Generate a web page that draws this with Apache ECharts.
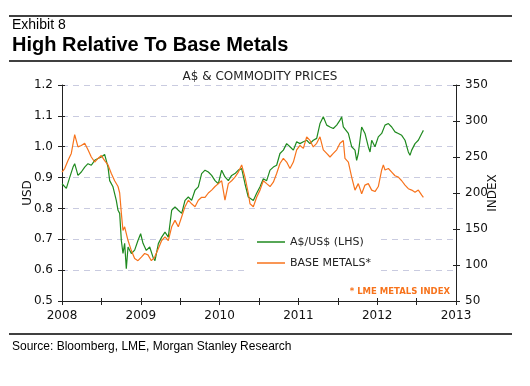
<!DOCTYPE html>
<html><head><meta charset="utf-8">
<script src="https://cdn.jsdelivr.net/npm/echarts@6/dist/echarts.min.js"></script>
<style>html,body{margin:0;padding:0;background:#fff}#c{width:530px;height:386px}</style>
</head><body><div id="c"></div>
<script>
// A$/US$ (left axis, USD)
const gDates = [2008.000,2008.055,2008.097,2008.140,2008.161,2008.203,2008.245,2008.288,2008.330,2008.372,2008.415,2008.457,2008.499,2008.541,2008.584,2008.605,2008.647,2008.689,2008.711,2008.732,2008.753,2008.774,2008.795,2008.816,2008.838,2008.880,2008.922,2008.964,2008.998,2009.028,2009.070,2009.113,2009.155,
2009.180,2009.223,2009.265,2009.307,2009.349,2009.392,2009.434,2009.476,2009.519,2009.561,2009.603,2009.645,2009.688,2009.730,2009.772,2009.815,2009.857,2009.899,2009.942,2009.984,2010.026,2010.068,2010.111,2010.153,2010.195,2010.238,2010.280,2010.322,2010.364,
2010.386,2010.428,2010.470,2010.513,2010.555,2010.597,2010.640,2010.682,2010.724,2010.766,2010.809,2010.851,2010.893,2010.936,2010.978,2011.020,2011.063,2011.105,2011.147,2011.189,2011.232,2011.274,2011.316,2011.359,2011.401,2011.443,2011.486,2011.528,2011.549,2011.570,
2011.591,2011.634,2011.676,2011.718,2011.739,2011.760,2011.803,2011.824,2011.845,2011.887,2011.909,2011.930,2011.972,2012.014,2012.057,2012.099,2012.142,2012.184,2012.226,2012.268,2012.311,2012.353,2012.395,2012.416,2012.438,2012.480,2012.522,2012.565,2012.586];
const gValues = [0.88,0.865,0.90,0.934,0.945,0.907,0.918,0.934,0.945,0.94,0.956,0.962,0.967,0.975,0.934,0.89,0.87,0.826,0.794,0.784,0.696,0.654,0.687,0.605,0.675,0.654,0.665,0.696,0.718,0.687,0.664,0.675,0.642,
0.631,0.686,0.707,0.723,0.707,0.794,0.805,0.794,0.784,0.826,0.837,0.826,0.859,0.87,0.913,0.924,0.918,0.907,0.89,0.88,0.924,0.902,0.89,0.907,0.913,0.924,0.929,0.88,0.837,
0.837,0.826,0.849,0.87,0.896,0.89,0.924,0.934,0.94,0.978,0.989,1.01,1.0,0.989,1.016,1.01,1.016,1.021,1.01,1.021,1.027,1.075,1.097,1.07,1.064,1.059,1.07,1.086,1.097,1.064,
1.064,1.043,1.0,0.989,0.956,0.978,1.064,1.07,1.043,1.0,0.983,1.021,1.0,1.032,1.043,1.07,1.075,1.064,1.048,1.043,1.037,1.021,0.983,0.972,0.989,1.01,1.021,1.043,1.053];
// Base metals (right axis, LME index)
const oDates = [2008.000,2008.034,2008.076,2008.118,2008.161,2008.203,2008.245,2008.288,2008.330,2008.372,2008.415,2008.457,2008.499,2008.541,2008.584,2008.626,2008.668,2008.711,2008.732,2008.753,2008.774,2008.795,2008.838,2008.880,2008.922,2008.964,2009.007,2009.049,2009.091,2009.134,2009.176,
2009.223,2009.265,2009.307,2009.349,2009.392,2009.434,2009.476,2009.519,2009.561,2009.603,2009.645,2009.688,2009.730,2009.772,2009.815,2009.857,2009.899,2009.942,2009.984,2010.026,2010.068,2010.111,2010.153,2010.195,2010.238,2010.280,2010.322,2010.364,
2010.386,2010.428,2010.470,2010.513,2010.555,2010.597,2010.640,2010.682,2010.724,2010.766,2010.809,2010.851,2010.893,2010.936,2010.978,2011.020,2011.063,2011.105,2011.147,2011.189,2011.232,2011.274,2011.316,2011.359,2011.401,2011.443,2011.486,2011.528,2011.570,
2011.591,2011.634,2011.676,2011.718,2011.760,2011.803,2011.845,2011.887,2011.930,2011.972,2012.014,2012.057,2012.078,2012.099,2012.142,2012.184,2012.226,2012.268,2012.311,2012.353,2012.395,2012.438,2012.480,2012.522,2012.565,2012.586];
const oValues = [229,234,245,255,281,264,266,269,260,250,243,248,252,245,239,227,217,209,200,172,148,153,134,120,109,106,111,116,114,106,111,
123,134,139,134,153,162,153,167,181,190,185,181,190,194,194,200,204,209,213,217,190,213,217,222,229,239,222,200,
185,181,194,204,217,213,209,215,227,241,248,243,234,243,260,266,262,278,273,264,269,278,260,255,250,255,260,269,273,
248,243,222,204,213,199,211,213,204,202,209,232,239,232,234,229,224,222,217,211,206,204,201,204,197,194];
const xTicks = [2008,2009,2010,2011,2012,2013];
const leftTicks = [0.5,0.6,0.7,0.8,0.9,1.0,1.1,1.2];
const rightTicks = [50,100,150,200,250,300,350];
const seriesNames = ['A$/US$ (LHS)','BASE METALS*'];

const F = 'DejaVu Sans';
const chart = echarts.init(document.getElementById('c'), null, {renderer:'canvas'});
const axisLineStyle = {color:'#222', width:1};
const baseX = {type:'value', min:xTicks[0], max:xTicks[xTicks.length-1], interval:0.5};
const baseL = {type:'value', min:leftTicks[0], max:leftTicks[leftTicks.length-1], interval:0.1};
const baseR = {type:'value', min:rightTicks[0], max:rightTicks[rightTicks.length-1], interval:50};
chart.setOption({
  animation:false,
  backgroundColor:'#fff',
  grid:{left:62, right:74, top:85, bottom:85, containLabel:false},
  xAxis:[
    Object.assign({}, baseX, {position:'bottom',
      axisLine:{show:true, lineStyle:axisLineStyle},
      axisTick:{show:true, inside:false, length:4, lineStyle:axisLineStyle},
      axisLabel:{margin:9, color:'#111', fontFamily:F, fontSize:12,
        formatter:v => (Math.abs(v - Math.round(v)) < 1e-6 && xTicks.indexOf(Math.round(v))>=0) ? String(Math.round(v)) : ''},
      splitLine:{show:false}}),
    Object.assign({}, baseX, {position:'bottom',
      axisLine:{show:false}, axisTick:{show:true, inside:true, length:3, lineStyle:axisLineStyle},
      axisLabel:{show:false}, splitLine:{show:false}})
  ],
  yAxis:[
    Object.assign({}, baseL, {position:'left',
      axisLine:{show:true, lineStyle:axisLineStyle},
      axisTick:{show:true, inside:false, length:4, lineStyle:axisLineStyle},
      axisLabel:{margin:9, color:'#111', fontFamily:F, fontSize:12, formatter:v => v.toFixed(1)},
      splitLine:{show:true, lineStyle:{color:'#c9cbe0', width:1, type:[6,5]}}}),
    Object.assign({}, baseR, {position:'right',
      axisLine:{show:true, lineStyle:axisLineStyle},
      axisTick:{show:true, inside:false, length:4, lineStyle:axisLineStyle},
      axisLabel:{margin:9, color:'#111', fontFamily:F, fontSize:12, formatter:v => String(v)},
      splitLine:{show:false}}),
    Object.assign({}, baseL, {position:'left',
      axisLine:{show:false}, axisTick:{show:true, inside:true, length:3, lineStyle:axisLineStyle},
      axisLabel:{show:false}, splitLine:{show:false}}),
    Object.assign({}, baseR, {position:'right',
      axisLine:{show:false}, axisTick:{show:true, inside:true, length:3, lineStyle:axisLineStyle},
      axisLabel:{show:false}, splitLine:{show:false}})
  ],
  legend:{
    data:seriesNames, orient:'vertical', left:249, top:231,
    icon:'rect', itemWidth:28, itemHeight:1.5, itemGap:7,
    backgroundColor:'#fff', padding:[4,8,4,8],
    textStyle:{fontFamily:F, fontSize:11, color:'#222', lineHeight:14}
  },
  series:[
    {name:seriesNames[0], type:'line', xAxisIndex:0, yAxisIndex:0, showSymbol:false, symbol:'none',
     lineStyle:{color:'#1f8a1f', width:1.2}, itemStyle:{color:'#1f8a1f'},
     data:gDates.map((d,i)=>[d,gValues[i]]), z:3},
    {name:seriesNames[1], type:'line', xAxisIndex:0, yAxisIndex:1, showSymbol:false, symbol:'none',
     lineStyle:{color:'#f7731c', width:1.2}, itemStyle:{color:'#f7731c'},
     data:oDates.map((d,i)=>[d,oValues[i]]), z:4}
  ],
  graphic:[
    {type:'line', shape:{x1:9,y1:16,x2:512,y2:16}, style:{stroke:'#000', lineWidth:1.5}},
    {type:'line', shape:{x1:9,y1:61,x2:512,y2:61}, style:{stroke:'#000', lineWidth:1.5}},
    {type:'line', shape:{x1:9,y1:334,x2:512,y2:334}, style:{stroke:'#000', lineWidth:1.5}},
    {type:'text', left:12, top:18, style:{text:'Exhibit 8', font:'14px "Liberation Sans", Arial, sans-serif', fill:'#000'}},
    {type:'text', left:12, top:35, style:{text:'High Relative To Base Metals', font:'bold 20px "Liberation Sans", Arial, sans-serif', fill:'#000'}},
    {type:'text', left:12, top:341, style:{text:'Source: Bloomberg, LME, Morgan Stanley Research', font:'12px "Liberation Sans", Arial, sans-serif', fill:'#000'}},
    {type:'text', x:260, y:77, style:{text:'A$ & COMMODITY PRICES', font:'12px "DejaVu Sans"', fill:'#222', textAlign:'center', textVerticalAlign:'middle'}},
    {type:'text', x:28, y:193, rotation:Math.PI/2, style:{text:'USD', font:'12px "DejaVu Sans"', fill:'#111', textAlign:'center', textVerticalAlign:'middle'}},
    {type:'text', x:493, y:193, rotation:Math.PI/2, style:{text:'INDEX', font:'12px "DejaVu Sans"', fill:'#111', textAlign:'center', textVerticalAlign:'middle'}},
    {type:'text', x:450, y:292, style:{text:'* LME METALS INDEX', font:'bold 8.5px "DejaVu Sans"', fill:'#f7731c', textAlign:'right', textVerticalAlign:'middle'}}
  ]
});
</script></body></html>
